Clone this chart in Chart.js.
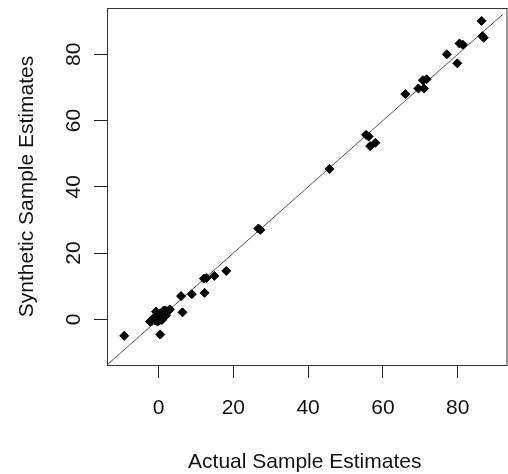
<!DOCTYPE html>
<html>
<head>
<meta charset="utf-8">
<script src="https://cdn.jsdelivr.net/npm/chart.js@4/dist/chart.umd.min.js"></script>
<style>
  html, body { margin: 0; padding: 0; background: #fff; }
  #wrap { width: 508px; height: 474px; }
</style>
</head>
<body>
<div id="wrap"><canvas id="myChart"></canvas></div>
<script>
// actual vs synthetic estimates
var actualX = [-9.2, 0.45, -2.3, -1.5, -0.7, -0.3, 0.2, 0.6, 1.0, 1.5, 2.4, 3.0, -1.0, 0.3, 1.8,
  -1.8, -0.2, 0.9, 2.0, 1.3,
  6.0, 6.4, 8.9, 12.3, 12.1, 12.8, 14.9, 18.1, 26.7, 27.2, 45.7, 55.5, 56.2, 56.6, 58.0,
  66.0, 69.5, 71.0, 70.7, 71.7, 77.1, 79.9, 80.5, 81.4, 86.4, 86.6, 87.0];
var syntheticY = [-5.0, -4.6, -0.7, 0.2, 2.3, -0.7, -0.4, 0.9, 0.1, 1.9, 2.3, 3.0, -0.3, 1.6, 2.7,
  -0.5, 1.0, -0.2, 1.2, 2.6,
  7.0, 2.1, 7.6, 8.0, 12.3, 12.5, 13.1, 14.6, 27.4, 27.0, 45.4, 55.7, 55.2, 52.3, 53.3,
  68.0, 69.7, 69.7, 72.2, 72.5, 80.0, 77.3, 83.3, 82.9, 90.1, 85.5, 85.0];
var lineX = [-20, 100];
var xTicks = [0, 20, 40, 60, 80];
var yTicks = [0, 20, 40, 60, 80];

var points = actualX.map(function (x, i) { return {x: x, y: syntheticY[i]}; });
var refLine = lineX.map(function (v) { return {x: v, y: v}; });

var font = {family: "'Liberation Sans', Arial, sans-serif", size: 21};

var boxPlugin = {
  id: 'box',
  afterDatasetsDraw: function (chart) {
    var a = chart.chartArea, ctx = chart.ctx;
    ctx.save();
    ctx.strokeStyle = '#333';
    ctx.lineWidth = 1;
    ctx.strokeRect(a.left + 0.5, a.top + 0.5, a.right - a.left + 4, a.bottom - a.top);
    ctx.restore();
  }
};

new Chart("myChart", {
  type: "scatter",
  data: {
    datasets: [{
      data: points,
      pointStyle: 'rectRot',
      pointRadius: 4.5,
      borderWidth: 1,
      backgroundColor: '#000',
      borderColor: '#000'
    }, {
      type: 'line',
      data: refLine,
      borderColor: '#555',
      borderWidth: 1,
      pointRadius: 0,
      fill: false
    }]
  },
  plugins: [boxPlugin],
  options: {
    responsive: true,
    maintainAspectRatio: false,
    animation: false,
    layout: {padding: {top: 8, left: 0, right: 0, bottom: 0}},
    plugins: {legend: {display: false}, tooltip: {enabled: false}},
    scales: {
      x: {
        type: 'linear',
        min: -13.8, max: 92,
        afterBuildTicks: function (s) { s.ticks = xTicks.map(function (v) { return {value: v}; }); },
        afterFit: function (s) { s.height = 109; s.paddingLeft = 0; s.paddingRight = 0; },
        grid: {display: true, drawOnChartArea: false, drawTicks: true, tickLength: 13, color: '#222'},
        border: {display: false},
        ticks: {font: font, color: '#111', padding: 18, maxRotation: 0, includeBounds: false},
        title: {display: true, text: 'Actual Sample Estimates', font: font, color: '#111', padding: {top: 0, bottom: -1}}
      },
      y: {
        type: 'linear',
        min: -13.8, max: 94,
        afterBuildTicks: function (s) { s.ticks = yTicks.map(function (v) { return {value: v}; }); },
        afterFit: function (s) { s.width = 107; s.paddingTop = 0; s.paddingBottom = 0; },
        grid: {display: true, drawOnChartArea: false, drawTicks: true, tickLength: 13, color: '#222'},
        border: {display: false},
        ticks: {font: font, color: '#111', padding: 8, minRotation: 90, maxRotation: 90, crossAlign: 'center', includeBounds: false},
        title: {display: true, text: 'Synthetic Sample Estimates', font: font, color: '#111', padding: {top: 15, bottom: 0}}
      }
    }
  }
});
</script>
</body>
</html>
